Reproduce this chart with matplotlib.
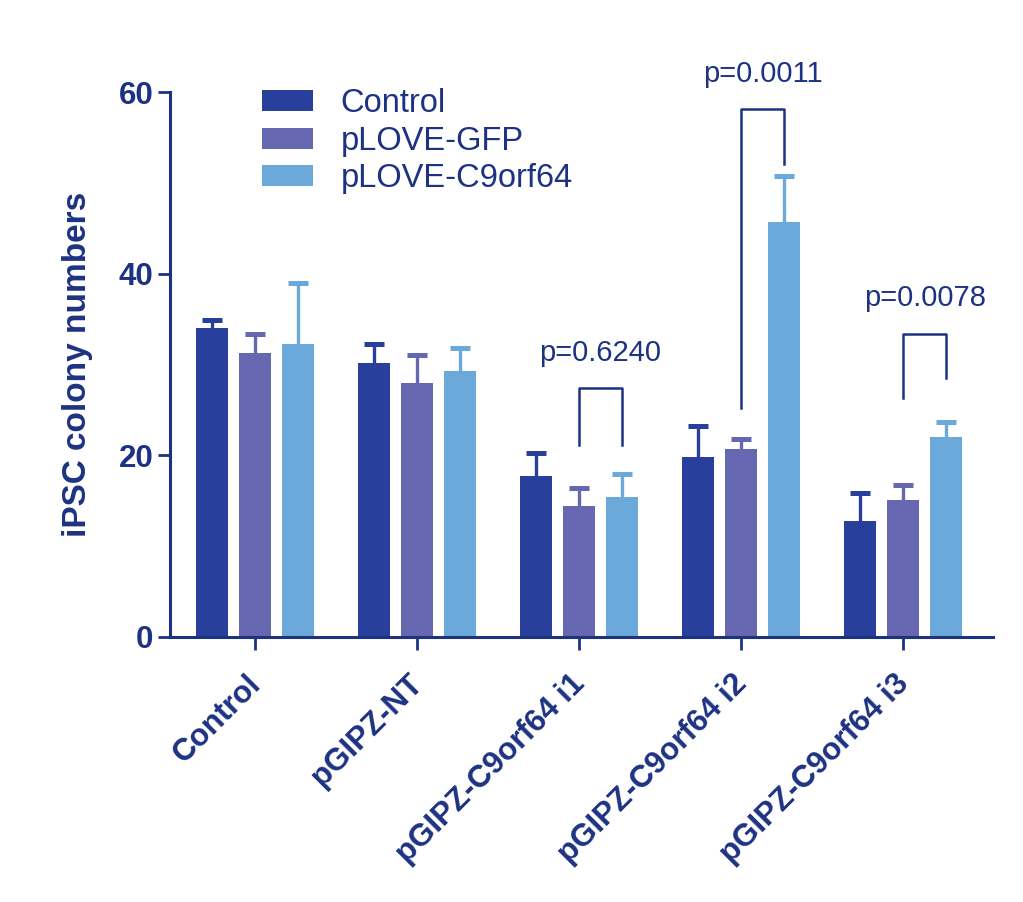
import numpy as np
import matplotlib
matplotlib.use('Agg')
import matplotlib.pyplot as plt
from matplotlib.transforms import ScaledTranslation

plt.rcParams['font.family'] = ['Liberation Sans', 'DejaVu Sans']

groups = ['Control', 'pGIPZ-NT', 'pGIPZ-C9orf64 i1', 'pGIPZ-C9orf64 i2', 'pGIPZ-C9orf64 i3']
series = ['Control', 'pLOVE-GFP', 'pLOVE-C9orf64']
ctrl_mean = [34.0, 30.2, 17.7, 19.8, 12.8]
ctrl_err = [0.9, 2.1, 2.5, 3.4, 3.0]
gfp_mean = [31.3, 28.0, 14.4, 20.7, 15.1]
gfp_err = [2.0, 3.0, 2.0, 1.1, 1.6]
c9_mean = [32.2, 29.3, 15.4, 45.7, 22.0]
c9_err = [6.8, 2.5, 2.5, 5.0, 1.7]

# p-value brackets: group, left bar, right bar, left leg end, top, right leg end, label
pvals = [(2, 1, 2, 21.1, 27.4, 21.1, 'p=0.6240'),
         (3, 1, 2, 25.2, 58.1, 52.1, 'p=0.0011'),
         (4, 1, 2, 26.3, 33.4, 28.5, 'p=0.0078')]

colors = ['#283f9b', '#6667b1', '#6aa9da']
navy = '#1d3282'

fig = plt.figure(figsize=(10.23, 9.02), dpi=100)
ax = fig.add_axes([0.166, 0.294, 0.805, 0.604])

x = np.arange(len(groups))
step = 0.265
width = 0.2
means = [ctrl_mean, gfp_mean, c9_mean]
errs = [ctrl_err, gfp_err, c9_err]
for i in range(3):
    xi = x + (i - 1) * step
    ax.bar(xi, means[i], width, color=colors[i], label=series[i], zorder=2)
    eb = ax.errorbar(xi, means[i], yerr=[np.zeros(len(groups)), errs[i]], fmt='none',
                     ecolor=colors[i], elinewidth=2.4, capsize=7.5, capthick=3.6,
                     zorder=1)
    eb.lines[1][0].set_visible(False)  # no lower cap

for g, a, b, yl, yt, yr, lab in pvals:
    xa = g + (a - 1) * step
    xb = g + (b - 1) * step
    ax.plot([xa, xa, xb, xb], [yl, yt, yt, yr], color=navy, lw=1.8, clip_on=False)
    ax.text((xa + xb) / 2, yt + 3.0, lab, ha='center', va='baseline', fontsize=21,
            color=navy)

ax.set_xlim(-0.525, 4.556)
ax.set_ylim(0, 60)
ax.set_yticks([0, 20, 40, 60])
ax.set_xticks(x)
ax.set_xticklabels(groups, rotation=45, ha='right', rotation_mode='anchor',
                   fontsize=22.5, fontweight='bold', color=navy)
for lab in ax.get_yticklabels():
    lab.set_fontsize(22.5)
    lab.set_fontweight('bold')
    lab.set_color(navy)
ax.set_ylabel('iPSC colony numbers', fontsize=24, fontweight='bold', color=navy,
              labelpad=18)

for s in ['top', 'right']:
    ax.spines[s].set_visible(False)
for s in ['left', 'bottom']:
    ax.spines[s].set_linewidth(2.2)
    ax.spines[s].set_color(navy)
ax.tick_params(axis='both', colors=navy, width=2, length=9, pad=3)
ax.tick_params(axis='x', pad=14)

# nudge the rotated labels left so their ends sit under the ticks
shift = ScaledTranslation(-9 / 100, 0, fig.dpi_scale_trans)
for lab in ax.get_xticklabels():
    lab.set_transform(lab.get_transform() + shift)

leg = ax.legend(loc='upper left', bbox_to_anchor=(0.0925, 1.037), frameon=False,
                fontsize=23.5, handlelength=1.55, handleheight=0.6,
                handletextpad=0.85, labelspacing=0.2, borderpad=0)
for t in leg.get_texts():
    t.set_color(navy)

fig.savefig('out.png', dpi=100)
